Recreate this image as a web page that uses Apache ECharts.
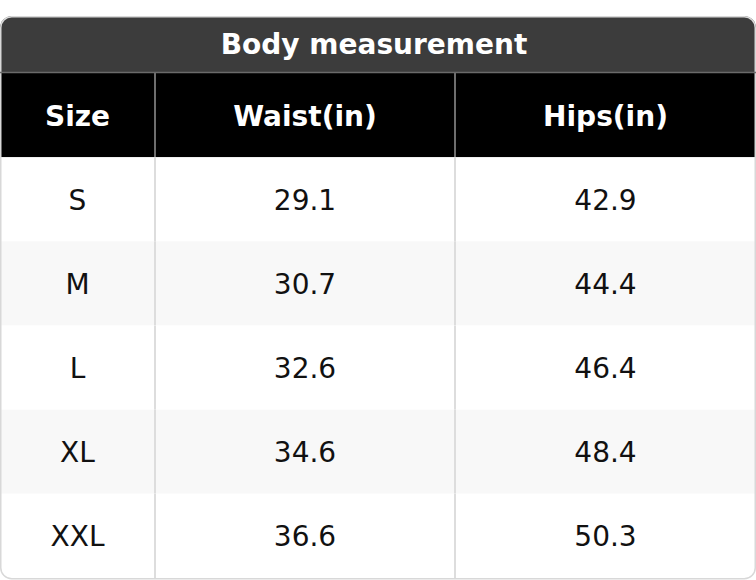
<!DOCTYPE html>
<html>
<head>
<meta charset="utf-8">
<script src="https://cdn.jsdelivr.net/npm/echarts@6/dist/echarts.min.js"></script>
<style>html,body{margin:0;padding:0;background:#fff;}#c{width:756px;height:580px;}</style>
</head>
<body>
<div id="c"></div>
<script>
const tableTitle = 'Body measurement';
const headers = ['Size', 'Waist(in)', 'Hips(in)'];
const sizes = ['S', 'M', 'L', 'XL', 'XXL'];
const waist = [29.1, 30.7, 32.6, 34.6, 36.6];
const hips = [42.9, 44.4, 46.4, 48.4, 50.3];

// layout only: column edges in chart units (x axis 0..756)
const colEdges = [0, 155, 455, 756];

// build cells: [row, col, text]
const cells = [];
headers.forEach((h, c) => cells.push([0, c, h]));
sizes.forEach((s, i) => {
  cells.push([i + 1, 0, s]);
  cells.push([i + 1, 1, waist[i].toFixed(1)]);
  cells.push([i + 1, 2, hips[i].toFixed(1)]);
});

const chart = echarts.init(document.getElementById('c'), null, {renderer: 'svg'});
chart.setOption({
  animation: false,
  backgroundColor: '#fff',
  grid: {left: 0, right: 0, top: 73, bottom: 2},
  xAxis: {type: 'value', min: 0, max: 756, show: false},
  yAxis: {type: 'value', min: 0, max: sizes.length + 1, inverse: true, show: false},
  graphic: [
    {type: 'rect', z: 0, shape: {x: 0, y: 16, width: 756, height: 57, r: [12, 12, 0, 0]}, style: {fill: '#3c3c3c'}},
    {type: 'text', z: 5, x: 374, y: 44, style: {text: tableTitle, fill: '#fff', font: 'bold 28px "DejaVu Sans"', align: 'center', verticalAlign: 'middle'}},
    {type: 'rect', z: 100, silent: true, shape: {x: 0.75, y: 16.75, width: 754.5, height: 562, r: 11}, style: {fill: 'none', stroke: '#d8d8d8', lineWidth: 1.5}},
    {type: 'line', z: 100, silent: true, shape: {x1: 0, y1: 72.5, x2: 756, y2: 72.5}, style: {stroke: '#6a6a6a', lineWidth: 1.5}}
  ],
  series: [{
    type: 'custom',
    data: cells,
    encode: {x: 1, y: 0},
    renderItem: function (params, api) {
      const r = api.value(0), c = api.value(1);
      const text = cells[params.dataIndex][2];
      const p0 = api.coord([colEdges[c], r]);
      const p1 = api.coord([colEdges[c + 1], r + 1]);
      const x = p0[0], y = p0[1], w = p1[0] - p0[0], h = p1[1] - p0[1];
      const isHead = r === 0;
      const fill = isHead ? '#000000' : (r % 2 === 0 ? '#f8f8f8' : '#ffffff');
      const children = [
        {type: 'rect', shape: {x: x, y: y, width: w, height: h}, style: {fill: fill}},
        {type: 'text', style: {
          text: text, x: x + w / 2, y: y + h / 2 + 1, align: 'center', verticalAlign: 'middle',
          fill: isHead ? '#ffffff' : '#111111',
          font: (isHead ? 'bold ' : '') + '28px "DejaVu Sans"'
        }}
      ];
      if (c > 0) {
        children.push({type: 'line', shape: {x1: x, y1: y, x2: x, y2: y + h},
          style: {stroke: isHead ? '#6e6e6e' : '#dddddd', lineWidth: 2}});
      }
      return {type: 'group', children: children};
    }
  }]
});
</script>
</body>
</html>
